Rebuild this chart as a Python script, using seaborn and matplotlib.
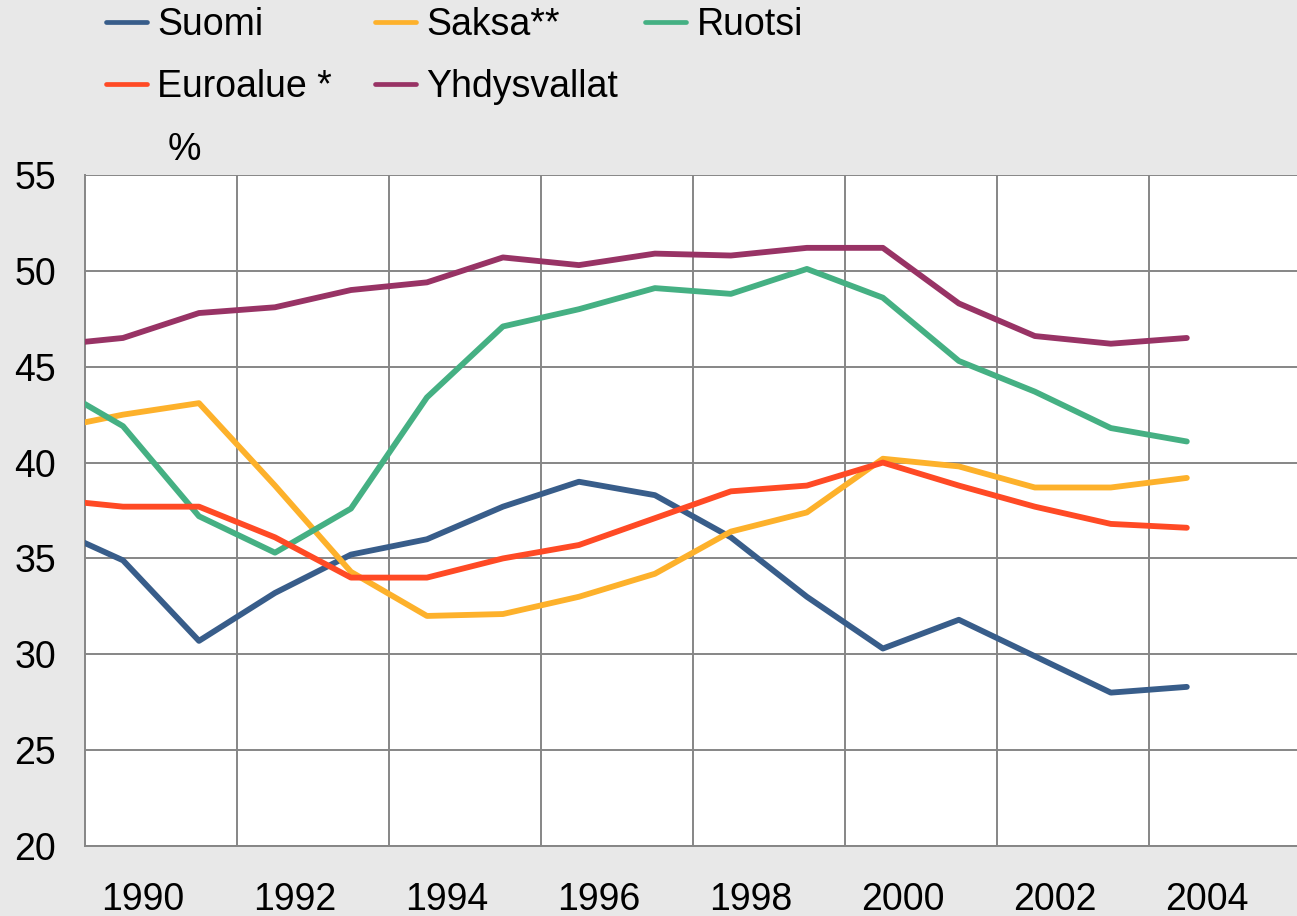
# ======================================================
# Share of taxes / GDP style chart (Suomi, Saksa, Ruotsi...)
# ======================================================

import numpy as np
import pandas as pd
import seaborn as sns
import matplotlib.pyplot as plt
from matplotlib.lines import Line2D

# ======================================================
# Data
# ======================================================

years = list(range(1989, 2005))

suomi = [36.7, 34.9, 30.7, 33.2, 35.2, 36.0, 37.7, 39.0, 38.3, 36.1, 33.0, 30.3, 31.8, 29.9, 28.0, 28.3]
saksa = [41.7, 42.5, 43.1, 38.8, 34.3, 32.0, 32.1, 33.0, 34.2, 36.4, 37.4, 40.2, 39.8, 38.7, 38.7, 39.2]
ruotsi = [44.2, 41.9, 37.2, 35.3, 37.6, 43.4, 47.1, 48.0, 49.1, 48.8, 50.1, 48.6, 45.3, 43.7, 41.8, 41.1]
euroalue = [38.1, 37.7, 37.7, 36.1, 34.0, 34.0, 35.0, 35.7, 37.1, 38.5, 38.8, 40.0, 38.8, 37.7, 36.8, 36.6]
yhdysvallat = [46.1, 46.5, 47.8, 48.1, 49.0, 49.4, 50.7, 50.3, 50.9, 50.8, 51.2, 51.2, 48.3, 46.6, 46.2, 46.5]

names = ["Suomi", "Saksa**", "Ruotsi", "Euroalue *", "Yhdysvallat"]
colors = ["#385d8a", "#fdb12b", "#45b083", "#ff4a25", "#983365"]

label_years = [1990, 1992, 1994, 1996, 1998, 2000, 2002, 2004]
y_ticks = [20, 25, 30, 35, 40, 45, 50, 55]

series = [suomi, saksa, ruotsi, euroalue, yhdysvallat]

df = pd.DataFrame({
    "vuosi": years * len(names),
    "sarja": [n for n in names for _ in years],
    "arvo": [v for s in series for v in s],
})

# ======================================================
# Plot
# ======================================================

sns.set_theme(style="white")
plt.rcParams["font.family"] = ["Liberation Sans", "DejaVu Sans"]
plt.rcParams["text.color"] = "black"

W, H = 1297, 916
bg = "#e8e8e8"
grid_col = "#868686"

fig = plt.figure(figsize=(W / 100, H / 100), dpi=100, facecolor=bg)
ax = fig.add_axes([85 / W, 70 / H, 1212 / W, 671 / H])
ax.set_facecolor("white")

palette = dict(zip(names, colors))

sns.lineplot(
    data=df,
    x="vuosi",
    y="arvo",
    hue="sarja",
    hue_order=names,
    palette=palette,
    linewidth=4.2,
    solid_capstyle="round",
    legend=False,
    ax=ax,
    zorder=3
)

ax.set_xlim(1989.5, 2005.45)
ax.set_ylim(20, 55)

# y axis
ax.set_yticks(y_ticks)
ax.yaxis.grid(True, color=grid_col, linewidth=1.4)
ax.tick_params(axis="y", length=0, pad=21, labelsize=27, labelcolor="black")

# x axis: labels, short inner ticks, gridlines every two years
ax.set_xticks([y + 0.26 for y in label_years])
ax.set_xticklabels([str(y) for y in label_years])
ax.tick_params(axis="x", which="major", length=0, pad=26, labelsize=27, labelcolor="black")

ax.set_xticks([y + 0.5 for y in label_years], minor=True)
ax.tick_params(axis="x", which="minor", direction="in", length=6, width=1.4, color=grid_col)

ax.vlines([y + 1.5 for y in label_years[:-1]], 20, 55, colors=grid_col, linewidth=1.4, zorder=1)
ax.set_axisbelow(True)

for side in ["top", "right"]:
    ax.spines[side].set_visible(False)
for side in ["left", "bottom"]:
    ax.spines[side].set_color(grid_col)
    ax.spines[side].set_linewidth(1.4)

ax.set_xlabel("")
ax.set_ylabel("")

ax.text((184 - 85) / 1212, 1 + 25 / 671, "%", transform=ax.transAxes,
        ha="center", va="center", fontsize=27)

# legend, three columns
columns = [[0, 3], [1, 4], [2]]
col_x = [106, 375, 645]

for idx, x0 in zip(columns, col_x):
    handles = [Line2D([], [], color=colors[i], linewidth=3.4, solid_capstyle="round") for i in idx]
    labels = [names[i] for i in idx]
    fig.legend(
        handles,
        labels,
        loc="upper left",
        bbox_to_anchor=(x0 / W, 1 - 7 / H),
        frameon=False,
        fontsize=27,
        handlelength=1.1,
        handletextpad=0.27,
        labelspacing=0.69,
        borderpad=0,
        borderaxespad=0
    )

plt.savefig("out.png", dpi=100, facecolor=bg)
